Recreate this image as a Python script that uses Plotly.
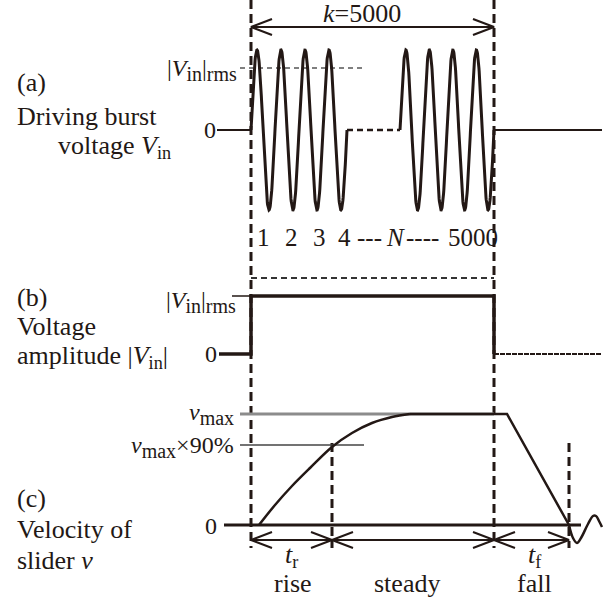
import numpy as np
import plotly.graph_objects as go

W, H = 608, 601
INK = "#231815"
FONT = "Liberation Serif"

# ---- key time markers (horizontal positions on the shared time axis)
t_on, t_90, t_off, t_stop = 251, 332, 494, 569
t_right_end = 602

# ---- panel (a): driving burst voltage
a_zero, a_peak, a_rms = 130, 50, 68
a_amp = a_zero - a_peak
burst1_start, burst1_period, burst1_cycles = 251, 24, 4
burst2_start, burst2_period, burst2_cycles = 400, 23.5, 4
a_zero_left = 217
a_rms_span = [240, 364]
cycle_labels = ["1", "2", "3", "4", "---", "<i>N</i>", "----", "5000"]
cycle_label_x = [263, 291, 319, 344, 369, 395, 422, 473]
a_num_y = 237

# ---- panel (b): voltage amplitude
b_zero, b_rms, b_ref = 354, 296, 278
b_zero_left, b_rms_left = 219, 232

# ---- panel (c): slider velocity
c_zero, c_max, c_90 = 525, 414, 445
c_zero_span = [224, 581]
c_ref_left = 240
c_90_right = 364
rise_x = [259, 275, 292, 310, 332, 352, 372, 392, 410]
rise_y = [525, 505, 486, 468, 447, 433, 423, 417, 414]
plateau_x = [410, 507, 569]
plateau_y = [414, 414, 525]
ring_x = [569, 573, 577, 581, 588, 593, 596, 599, 602]
ring_y = [525, 538, 543, 538, 524, 516, 516, 521, 527]
arrow_y_top, arrow_y_bot = 27, 540
dash_bottom = 548

fig = go.Figure()


def line(x, y, width=2, color=INK, dash="solid", shape="linear"):
    fig.add_trace(go.Scatter(x=x, y=y, mode="lines", hoverinfo="skip",
                             line=dict(color=color, width=width, dash=dash, shape=shape)))


def burst(start, period, cycles):
    t = np.linspace(0, cycles * period, 400)
    return start + t, a_zero - a_amp * np.sin(2 * np.pi * t / period)


def chevrons(x0, x1, y, L=21, h=8):
    xs, ys = [], []
    xs += [x0 + L, x0, x0 + L, None]
    ys += [y - h, y, y + h, None]
    xs += [x1 - L, x1, x1 - L, None]
    ys += [y - h, y, y + h, None]
    return xs, ys


# main vertical dashed lines
for tx in [t_on, t_off]:
    line([tx, tx], [0, dash_bottom], width=3, dash="9px,5px")
for tx in [t_90, t_stop]:
    line([tx, tx], [c_90 - 2, dash_bottom], width=3, dash="9px,5px")

# top arrow k=5000
line([t_on, t_off], [arrow_y_top, arrow_y_top], width=2.2)
xs, ys = chevrons(t_on, t_off, arrow_y_top)
line(xs, ys, width=2.2)

# ---- panel (a)
line(a_rms_span, [a_rms, a_rms], width=1.3, color="#555555", dash="5px,4px")
line([a_zero_left, t_on], [a_zero, a_zero], width=2)
x1, y1 = burst(burst1_start, burst1_period, burst1_cycles)
line(x1, y1, width=3)
g1_end = burst1_start + burst1_period * burst1_cycles
line([g1_end, burst2_start], [a_zero, a_zero], width=2.5, dash="6px,4px")
x2, y2 = burst(burst2_start, burst2_period, burst2_cycles)
line(x2, y2, width=3)
line([t_off, t_right_end], [a_zero, a_zero], width=2)

# ---- panel (b)
line([t_on, t_off], [b_ref, b_ref], width=2, color="#333333", dash="6px,4px")
line([b_rms_left, t_on], [b_rms, b_rms], width=1.5)
line([b_zero_left, t_on, t_on, t_off, t_off], [b_zero, b_zero, b_rms, b_rms, b_zero], width=3.5)
line([t_off, t_right_end], [b_zero, b_zero], width=2.2, dash="5px,1px")

# ---- panel (c)
line([c_ref_left, t_off], [c_max, c_max], width=3, color="#8c8c8c")
line([c_ref_left, c_90_right], [c_90, c_90], width=1.5, color="#444444")
line(c_zero_span, [c_zero, c_zero], width=3)
line(rise_x, rise_y, width=2.5, shape="spline")
line(plateau_x, plateau_y, width=2.5)
line(ring_x, ring_y, width=2.5, shape="spline")

# bottom arrows
for a, b in [(t_on, t_90), (t_90, t_off), (t_off, t_stop)]:
    line([a, b], [arrow_y_bot, arrow_y_bot], width=2)
    xs, ys = chevrons(a, b, arrow_y_bot)
    line(xs, ys, width=2)

# ---- text
BIG, SMALL, SUB = 26, 24, 20
ann = []


def sub(s, size=SUB):
    return f"<sub><span style='font-size:{size}px'>{s}</span></sub>"


def text(x, y, s, size, anchor="left"):
    ann.append(dict(x=x, y=y, xref="x", yref="y", text=s, showarrow=False,
                    xanchor=anchor, yanchor="middle",
                    font=dict(family=FONT, size=size, color=INK)))


text(15, 82, "(a)", BIG)
text(15, 116, "Driving burst", BIG)
text(56, 147, "voltage <i>V</i><sub>in</sub>", BIG)
text(15, 297, "(b)", BIG)
text(15, 326, "Voltage", BIG)
text(15, 357, "amplitude |<i>V</i><sub>in</sub>|", BIG)
text(15, 498, "(c)", BIG)
text(15, 529, "Velocity of", BIG)
text(15, 560, "slider <i>v</i>", BIG)

text(362, 13, "<i>k</i>=5000", BIG, "center")
text(239, 70, "|<i>V</i>" + sub("in") + "|" + sub("rms"), SMALL, "right")
text(218, 130, "0", SMALL, "right")
for lab, lx in zip(cycle_labels, cycle_label_x):
    text(lx, a_num_y, lab, 25, "center")

text(238, 302, "|<i>V</i>" + sub("in") + "|" + sub("rms"), SMALL, "right")
text(219, 354, "0", SMALL, "right")

text(236, 414, "<i>v</i>" + sub("max"), SMALL, "right")
text(236, 447, "<i>v</i>" + sub("max") + "×90%", SMALL, "right")
text(219, 526, "0", SMALL, "right")

text(291, 556, "<i>t</i><sub>r</sub>", BIG, "center")
text(293, 583, "rise", BIG, "center")
text(407, 583, "steady", BIG, "center")
text(535, 556, "<i>t</i><sub>f</sub>", BIG, "center")
text(534, 583, "fall", BIG, "center")

fig.update_layout(
    width=W, height=H, margin=dict(l=0, r=0, t=0, b=0),
    paper_bgcolor="white", plot_bgcolor="white", showlegend=False,
    xaxis=dict(range=[0, W], visible=False, fixedrange=True),
    yaxis=dict(range=[H, 0], visible=False, fixedrange=True),
    annotations=ann,
)
fig.write_html("out.html", config={"displayModeBar": False},
               post_script="document.body.style.margin='0';")
